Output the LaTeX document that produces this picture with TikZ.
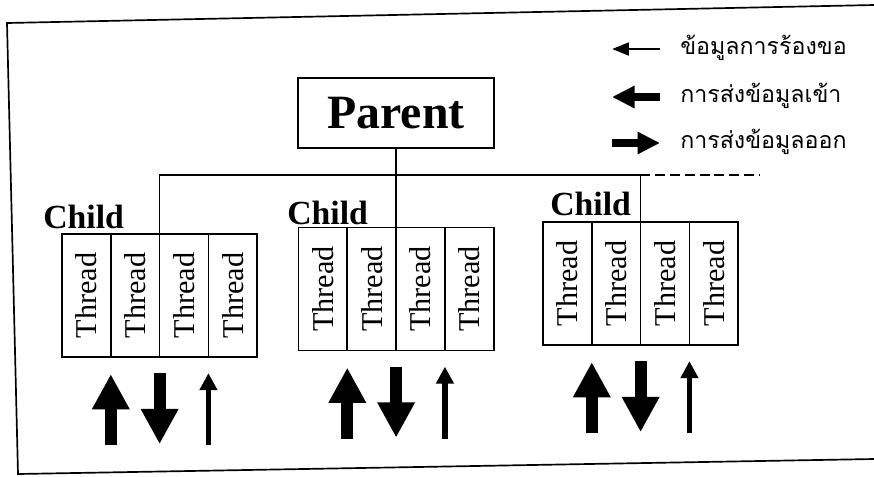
\documentclass[tikz,border=0pt]{standalone}
\usepackage{fontspec}
\setmainfont{Liberation Serif}
\newfontfamily\thaifont[Script=Thai]{Loma}
\usepackage{tikz}
\usetikzlibrary{positioning,calc,arrows.meta}
\tikzset{
    thread/.style={draw,line width=1.2pt,minimum width=1.22cm,minimum height=3.08cm,inner sep=0pt,outer sep=0pt,font=\fontsize{21.5}{22}\selectfont},
    parentbox/.style={draw,line width=1.2pt,minimum width=4.9cm,minimum height=1.75cm,font=\fontsize{34}{36}\selectfont\bfseries},
    childlabel/.style={anchor=base west,inner sep=0pt,font=\fontsize{24}{26}\selectfont\bfseries},
    keytext/.style={anchor=west,inner sep=0pt,font=\thaifont\fontsize{16.5}{20}\selectfont},
    wire/.style={line width=1.2pt},
    thickarr/.style={line width=8.5pt,-{Triangle[width=25pt,length=25pt]}},
    thinarr/.style={line width=4pt,-{Triangle[width=12pt,length=12pt]}},
    keythin/.style={line width=2pt,-{Triangle[width=9pt,length=12pt]}},
    keythick/.style={line width=6pt,-{Triangle[width=15pt,length=16pt]}}
}

\begin{document}
\begin{tikzpicture}[x=0.025cm,y=-0.025cm]
                            \useasboundingbox (0,0) rectangle (874,476);
                            \draw[wire] (874,5) -- (7,23) -- (18,474) -- (874,459);
                            \node[parentbox] (parent) at (396,113) {Parent};
                            \node[thread] (l1) at (86.4,295.5) {\rotatebox{90}{Thread}};
                            \node[thread,right=0pt of l1] (l2) {\rotatebox{90}{Thread}};
                            \node[thread,right=0pt of l2] (l3) {\rotatebox{90}{Thread}};
                            \node[thread,right=0pt of l3] (l4) {\rotatebox{90}{Thread}};
                            \node[thread] (m1) at (322.9,289) {\rotatebox{90}{Thread}};
                            \node[thread,right=0pt of m1] (m2) {\rotatebox{90}{Thread}};
                            \node[thread,right=0pt of m2] (m3) {\rotatebox{90}{Thread}};
                            \node[thread,right=0pt of m3] (m4) {\rotatebox{90}{Thread}};
                            \node[thread] (r1) at (567.4,283.5) {\rotatebox{90}{Thread}};
                            \node[thread,right=0pt of r1] (r2) {\rotatebox{90}{Thread}};
                            \node[thread,right=0pt of r2] (r3) {\rotatebox{90}{Thread}};
                            \node[thread,right=0pt of r3] (r4) {\rotatebox{90}{Thread}};
                            \node[childlabel] (lchild) at (43,228) {Child};
                            \node[childlabel] (mchild) at (287,224) {Child};
                            \node[childlabel] (rchild) at (550,215) {Child};
                            \coordinate (bus) at (0,175);
                            \coordinate (busend) at (760,175);
                            \draw[wire] (parent.south) -- (parent.south |- m2.north);
                            \draw[wire] (l2.north east) -- (l2.north east |- bus) -- (r2.north east |- bus) -- (r2.north east);
                            \draw[wire,dash pattern=on 7pt off 3.5pt] (r2.north east |- bus) -- (busend);
                            \draw[thickarr] ($(l1.south east)+(0,88)$) -- ($(l1.south east)+(0,17)$);
                            \draw[thickarr] ($(l2.south east)+(0,16)$) -- ($(l2.south east)+(0,87)$);
                            \draw[thinarr] ($(l3.south east)+(0,88)$) -- ($(l3.south east)+(0,16)$);
                            \draw[thickarr] ($(m1.south east)+(0,88)$) -- ($(m1.south east)+(0,17)$);
                            \draw[thickarr] ($(m2.south east)+(0,16)$) -- ($(m2.south east)+(0,87)$);
                            \draw[thinarr] ($(m3.south east)+(0,88)$) -- ($(m3.south east)+(0,16)$);
                            \draw[thickarr] ($(r1.south east)+(0,88)$) -- ($(r1.south east)+(0,17)$);
                            \draw[thickarr] ($(r2.south east)+(0,16)$) -- ($(r2.south east)+(0,87)$);
                            \draw[thinarr] ($(r3.south east)+(0,88)$) -- ($(r3.south east)+(0,16)$);
                            \node[keytext] (key1) at (680,48) {ข้อมูลการร้องขอ};
                            \node[keytext] (key2) at (680,96) {การส่งข้อมูลเข้า};
                            \node[keytext] (key3) at (680,142) {การส่งข้อมูลออก};
                            \draw[keythin] ($(key1.west)+(-20,1)$) -- ($(key1.west)+(-68,1)$);
                            \draw[keythick] ($(key2.west)+(-20,1)$) -- ($(key2.west)+(-68,1)$);
                            \draw[keythick] ($(key3.west)+(-68,1)$) -- ($(key3.west)+(-20,1)$);
                        \end{tikzpicture}
\end{document}
